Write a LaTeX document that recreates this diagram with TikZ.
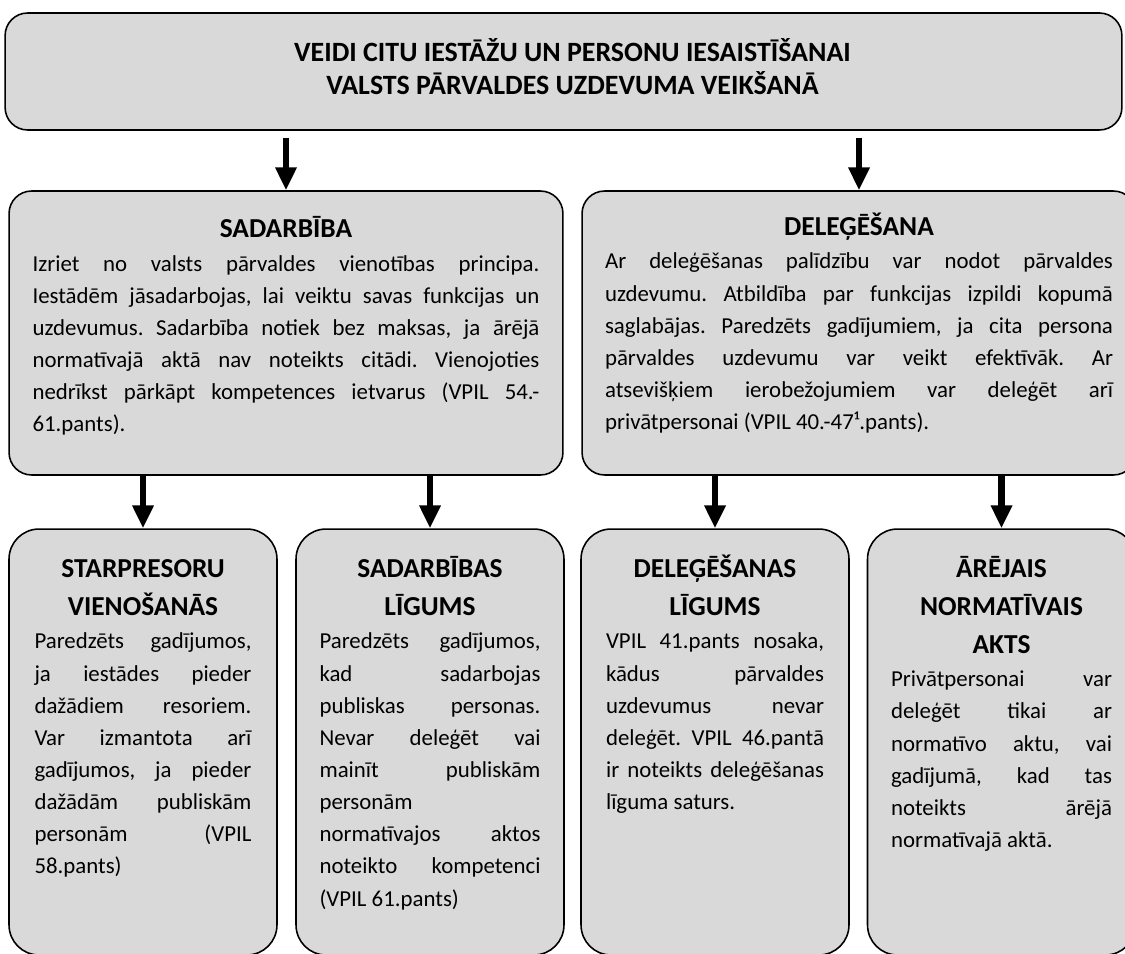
\documentclass[tikz,border=0pt]{standalone}
\usepackage{fontspec}
\setmainfont{Carlito}
\usetikzlibrary{arrows.meta,positioning}

\definecolor{boxgray}{RGB}{217,217,217}
\setlength{\parindent}{0pt}
\frenchspacing
\hyphenpenalty=10000
\hbadness=10000

\tikzset{
  panel/.style={draw=black, line width=0.9pt, fill=boxgray, rounded corners=0.45cm, inner sep=0pt},
  subpanel/.style={panel, rounded corners=0.6cm, minimum width=5.36cm, minimum height=8.52cm},
  bodytext/.style={inner sep=0pt, anchor=north, align=justify, font=\fontsize{13}{18.3}\selectfont},
  arr/.style={line width=3.6pt, -{Triangle[width=11.5pt,length=13pt]}},
}
\newcommand{\heading}[1]{{\centering\fontsize{15.6}{21.6}\selectfont\bfseries\rule{0pt}{14pt}#1\par}\vspace{0.6pt}}

\begin{document}
\begin{tikzpicture}[x=0.02cm, y=-0.02cm]
    \useasboundingbox (0,0) rectangle (1125,953);
    \clip (0,0) rectangle (1125,953);

    % Top box
    \node[panel, minimum width=22.34cm, minimum height=2.34cm] (top) at (563.5,71.5) {};
    \node[inner sep=0pt, anchor=north, align=center, font=\fontsize{15.9}{18.8}\selectfont\bfseries]
        (toptxt) at ([xshift=0.18cm, yshift=-0.48cm]top.north)
        {\rule{0pt}{14pt}VEIDI CITU IESTĀŽU UN PERSONU IESAISTĪŠANAI\\ VALSTS PĀRVALDES UZDEVUMA VEIKŠANĀ};

    % Second row
    \node[panel, minimum width=11.08cm, minimum height=5.68cm] (sad) at (286,333) {};
    \node[panel, minimum width=11.08cm, minimum height=5.68cm] (del) at (859,333) {};

    \node[bodytext, text width=10.14cm] (sadtxt) at ([yshift=-0.454cm]sad.north) {%
        \heading{SADARBĪBA}%
        Izriet no valsts pārvaldes vienotības principa.\linebreak
        Iestādēm jāsadarbojas, lai veiktu savas funkcijas un\linebreak
        uzdevumus. Sadarbība notiek bez maksas, ja ārējā\linebreak
        normatīvajā aktā nav noteikts citādi. Vienojoties\linebreak
        nedrīkst pārkāpt kompetences ietvarus (VPIL 54.-\linebreak
        61.pants).};
    \node[bodytext, text width=10.16cm] (deltxt) at ([yshift=-0.41cm]del.north) {%
        \heading{DELEĢĒŠANA}%
        Ar deleģēšanas palīdzību var nodot pārvaldes\linebreak
        uzdevumu. Atbildība par funkcijas izpildi kopumā\linebreak
        saglabājas. Paredzēts gadījumiem, ja cita persona\linebreak
        pārvaldes uzdevumu var veikt efektīvāk. Ar\linebreak
        atsevišķiem ierobežojumiem var deleģēt arī\linebreak
        privātpersonai (VPIL 40.-47¹.pants).};

    % Bottom row
    \node[subpanel] (b1) at (143,742) {};
    \node[subpanel] (b2) at (430,742) {};
    \node[subpanel] (b3) at (715,742) {};
    \node[subpanel] (b4) at (1001.5,742) {};

    \node[bodytext, text width=4.34cm] (b1txt) at ([yshift=-0.49cm]b1.north) {%
        \heading{STARPRESORU\\ VIENOŠANĀS}%
        Paredzēts gadījumos,\linebreak
        ja iestādes pieder\linebreak
        dažādiem resoriem.\linebreak
        Var izmantota arī\linebreak
        gadījumos, ja pieder\linebreak
        dažādām publiskām\linebreak
        personām (VPIL\linebreak
        58.pants)};
    \node[bodytext, text width=4.42cm] (b2txt) at ([yshift=-0.49cm]b2.north) {%
        \heading{SADARBĪBAS\\ LĪGUMS}%
        Paredzēts gadījumos,\linebreak
        kad sadarbojas\linebreak
        publiskas personas.\linebreak
        Nevar deleģēt vai\linebreak
        mainīt publiskām\linebreak
        personām\linebreak
        normatīvajos aktos\linebreak
        noteikto kompetenci\linebreak
        (VPIL 61.pants)};
    \node[bodytext, text width=4.36cm] (b3txt) at ([yshift=-0.49cm]b3.north) {%
        \heading{DELEĢĒŠANAS\\ LĪGUMS}%
        VPIL 41.pants nosaka,\linebreak
        kādus pārvaldes\linebreak
        uzdevumus nevar\linebreak
        deleģēt. VPIL 46.pantā\linebreak
        ir noteikts deleģēšanas\linebreak
        līguma saturs.};
    \node[bodytext, text width=4.42cm] (b4txt) at ([yshift=-0.49cm]b4.north) {%
        \heading{ĀRĒJAIS\\ NORMATĪVAIS\\ AKTS}%
        Privātpersonai var\linebreak
        deleģēt tikai ar\linebreak
        normatīvo aktu, vai\linebreak
        gadījumā, kad tas\linebreak
        noteikts ārējā\linebreak
        normatīvajā aktā.};

    % Arrows
    \draw[arr, shorten <=4pt] (top.south -| sad.north) -- (sad.north);
    \draw[arr, shorten <=4pt] (top.south -| del.north) -- (del.north);
    \draw[arr] (sad.south -| b1.north) -- (b1.north);
    \draw[arr] (sad.south -| b2.north) -- (b2.north);
    \draw[arr] (del.south -| b3.north) -- (b3.north);
    \draw[arr] (del.south -| b4.north) -- (b4.north);
\end{tikzpicture}
\end{document}
